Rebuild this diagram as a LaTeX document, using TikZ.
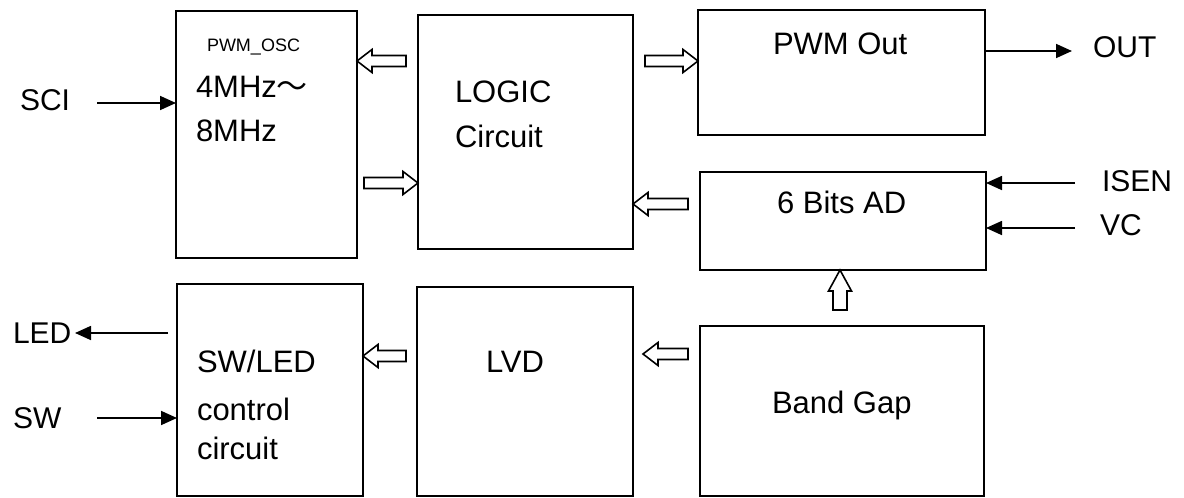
\documentclass[tikz,border=0pt]{standalone}
\usepackage{fontspec}
\setmainfont{Liberation Sans}
\newfontfamily\cjk{Noto Sans CJK SC}
\usetikzlibrary{arrows.meta,calc}
% #1 tail, #2 tip, #3 head length, #4 body half width
\newcommand\blockarrow[4]{%
  \coordinate (ba-h) at ($(#2)!#3!(#1)$);
  \draw[blockarr] ($(#1)!#4!90:(#2)$) -- ($(ba-h)!#4!-90:(#1)$) -- ($(ba-h)!11.5pt!-90:(#1)$) -- (#2) -- ($(ba-h)!11.5pt!90:(#1)$) -- ($(ba-h)!#4!90:(#1)$) -- ($(#1)!#4!-90:(#2)$) -- cycle;}
\begin{document}
\begin{tikzpicture}[x=1pt,y=-1pt,
  box/.style={draw, line width=1.8pt, inner sep=0pt, outer sep=0pt},
  txt/.style={inner sep=0pt, outer sep=0pt, font=\fontsize{31}{37}\selectfont, anchor=base west},
  lbl/.style={inner sep=0pt, outer sep=0pt, font=\fontsize{30}{36}\selectfont, anchor=base west},
  small/.style={inner sep=0pt, outer sep=0pt, font=\fontsize{18}{22}\selectfont, anchor=base west},
  sig/.style={line width=1.7pt, -{Triangle[length=16pt,width=14pt]}},
  blockarr/.style={draw, line width=1.6pt, fill=white, line join=miter}]
\useasboundingbox (0,0) rectangle (1184,498);
% boxes
\node[box, minimum width=181pt, minimum height=247pt] (osc) at (266.5,134.5) {};
\node[box, minimum width=215pt, minimum height=234pt] (logic) at (525.5,132) {};
\node[box, minimum width=287pt, minimum height=125pt] (pwm) at (841.5,72.5) {};
\node[box, minimum width=286pt, minimum height=98pt] (ad) at (843,221) {};
\node[box, minimum width=186pt, minimum height=212pt] (sw) at (270,390) {};
\node[box, minimum width=216pt, minimum height=209pt] (lvd) at (525,391.5) {};
\node[box, minimum width=284pt, minimum height=170pt] (bg) at (842,411) {};
% box texts
\node[small] (tosc) at (207,51.5) {PWM\_OSC};
\node[txt] (tf1) at (196,97) {4MHz{\cjk ～}};
\node[txt] (tf2) at (196,141) {8MHz};
\node[txt] (tlog1) at (455,102) {LOGIC};
\node[txt] (tlog2) at (455,147) {Circuit};
\node[txt] (tpwm) at (773,54) {PWM Out};
\node[txt] (tad) at (777,213) {6 Bits AD};
\node[txt] (tsw1) at (197,372) {SW/LED};
\node[txt] (tsw2) at (197,420) {control};
\node[txt] (tsw3) at (197,459) {circuit};
\node[txt] (tlvd) at (486,372) {LVD};
\node[txt] (tbg) at (772,413) {Band Gap};
% outside labels
\node[lbl] (lout) at (1093,57) {OUT};
\node[lbl] (lisen) at (1102,191) {ISEN};
\node[lbl] (lvc) at (1100,235) {VC};
\node[lbl] (lsci) at (20,110) {SCI};
\node[lbl] (lled) at (13,343) {LED};
\node[lbl] (lsw) at (13,428) {SW};
% signal arrows
\coordinate (sciS) at (97,103);
\draw[sig] (sciS) -- (sciS -| osc.west);
\coordinate (outE) at (1072,51);
\draw[sig] (outE -| pwm.east) -- (outE);
\coordinate (isenS) at (1075,183);
\draw[sig] (isenS) -- (isenS -| ad.east);
\coordinate (vcS) at (1075,228);
\draw[sig] (vcS) -- (vcS -| ad.east);
\coordinate (ledS) at (168,333);
\coordinate (ledE) at (75,333);
\draw[sig] (ledS) -- (ledE);
\coordinate (swS) at (97,418);
\draw[sig] (swS) -- (swS -| sw.west);
% block arrows
\coordinate (b1t) at (406,61);  \coordinate (b1h) at (b1t -| osc.east);
\blockarrow{b1t}{b1h}{15pt}{5.5pt}
\coordinate (b2t) at (364,183); \coordinate (b2h) at (b2t -| logic.west);
\blockarrow{b2t}{b2h}{15pt}{5.5pt}
\coordinate (b3t) at (645,61);  \coordinate (b3h) at (b3t -| pwm.west);
\blockarrow{b3t}{b3h}{15pt}{5.5pt}
\coordinate (b4t) at (688,204); \coordinate (b4h) at (b4t -| logic.east);
\blockarrow{b4t}{b4h}{15pt}{5.5pt}
\coordinate (b5t) at (840,310); \coordinate (b5h) at (b5t |- ad.south);
\blockarrow{b5t}{b5h}{21pt}{7pt}
\coordinate (b6t) at (688,354); \coordinate (b6h) at (643,354);
\blockarrow{b6t}{b6h}{15pt}{5.5pt}
\coordinate (b7t) at (406,356); \coordinate (b7h) at (b7t -| sw.east);
\blockarrow{b7t}{b7h}{15pt}{5.5pt}
\end{tikzpicture}
\end{document}
